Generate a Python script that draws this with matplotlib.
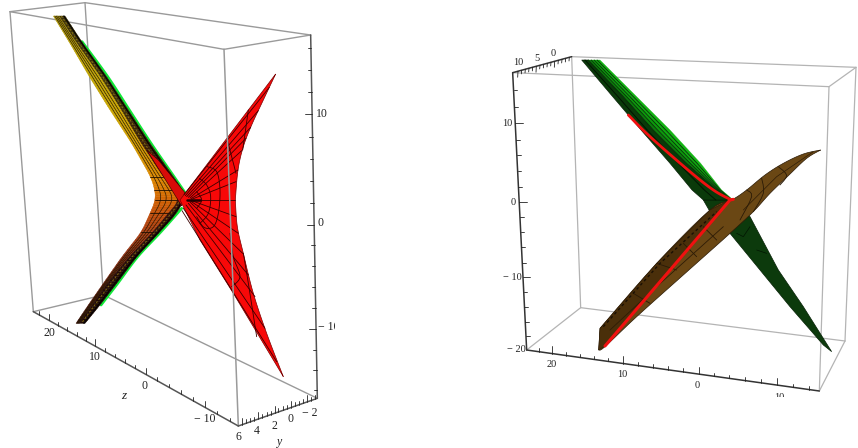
import matplotlib
matplotlib.use("Agg")
import matplotlib.pyplot as plt
import numpy as np
from matplotlib.patches import Polygon

plt.rcParams['font.family'] = ['Liberation Serif', 'DejaVu Serif']

W, H = 858, 448
GREY = '#9a9a9a'
INK = '#222222'

# ---------- left panel (values read in a 3x zoom of the picture) ----------
L_box_back = [[(255, 8), (932, 105)], [(30, 35), (255, 8)], [(255, 8), (310, 885)],
              [(100, 935), (310, 885)], [(310, 885), (952, 1195)],
              [(30, 35), (100, 935)], [(30, 35), (672, 148)], [(672, 148), (932, 105)]]
L_box_front = [[(672, 148), (715, 1278)]]
L_axes = [[(100, 935), (715, 1278)], [(715, 1278), (952, 1195)], [(932, 105), (952, 1195)]]

L_band_y = [48, 125, 230, 330, 430, 530, 570, 600, 640, 695, 770, 850, 915, 970]
L_band_left = [160, 207, 268, 330, 395, 452, 465, 467, 450, 425, 366, 310, 265, 228]
L_band_mid = [178, 228, 302, 365, 424, 490, 522, 540, 505, 460, 388, 322, 277, 238]
L_band_right = [195, 245, 320, 385, 450, 520, 548, 552, 530, 480, 410, 350, 300, 255]
L_band_col = ['#b09a10', '#b8a008', '#c0a404', '#c8a400', '#d09a00', '#dc8800', '#d87400',
              '#d06000', '#c04c08', '#a83c10', '#882c10', '#6e2412', '#561c10', '#401610']
L_band_dark = ['#3c3006', '#3a2e06', '#3a2e06', '#3a2a04', '#3a2004', '#3a1404', '#401004',
               '#3a1004', '#300c04', '#280c04', '#240a04', '#200a04', '#200a04', '#200a04']
L_band_cross = [530, 570, 600, 640, 695]
L_green_a = [(246, 125), (323, 230), (388, 330), (453, 430), (522, 530), (555, 578)]
L_green_b = [(545, 625), (483, 695), (413, 770), (353, 850), (303, 915)]

L_red_arc_up = [(827, 222), (790, 300), (755, 375), (730, 440), (714, 510), (706, 600)]
L_red_arc_low = [(706, 600), (712, 680), (730, 760), (760, 880), (800, 1000), (850, 1130)]
L_red_centre = [(700, 880), (600, 720), (540, 600)]
L_red_sliver = [(440, 450), (475, 480), (555, 578), (545, 618), (500, 545)]
L_red_spoke_start = [(575, 600), (575, 598), (573, 596), (570, 594), (565, 592), (560, 590),
                     (556, 587), (552, 584), (575, 602), (573, 604), (570, 606), (565, 610), (558, 615), (550, 625), (546, 632)]
L_red_spoke_end = [(706, 600), (708, 545), (714, 510), (725, 452), (738, 415), (752, 382), (775, 332), (808, 262),
                   (708, 650), (715, 700), (728, 760), (745, 825), (765, 890), (795, 985), (830, 1085)]
L_red_arcs = [
    [(590, 575), (605, 600), (590, 625)],
    [(598, 535), (620, 555), (632, 590), (625, 640), (600, 670)],
    [(622, 500), (650, 515), (660, 570), (655, 640), (640, 680), (612, 682), (590, 650)],
    [(682, 420), (695, 470), (708, 520)],
    [(745, 330), (738, 380), (728, 450)],
    [(690, 700), (700, 770), (720, 830), (695, 860)],
    [(730, 760), (745, 850), (770, 1010)],
]

L_bottom_ticks = [118, 147, 175, 202, 230, 257, 285, 315, 345, 375, 405, 437, 472, 507, 542, 578, 615, 652, 690]
L_bottom_major = [147, 285, 437, 615]
L_side_ticks = [143, 210, 277, 343, 410, 478, 543, 608, 675, 735, 798, 860, 925, 988, 1050, 1110, 1170]
L_side_major = [343, 675, 988]
L_depth_ticks = [725, 738, 750, 762, 775, 787, 800, 812, 825, 835, 848, 860, 872, 885, 897, 908, 920, 932, 945]
L_depth_major = [725, 775, 825, 872, 920]

L_labels = [('20', 148, 1000), ('10', 285, 1070), ('0', 435, 1158), ('\u2212 10', 615, 1258),
            ('10', 966, 342), ('0', 963, 668), ('\u2212 10', 985, 982),
            ('6', 716, 1312), ('4', 770, 1293), ('2', 822, 1277), ('0', 873, 1258), ('\u2212 2', 930, 1240)]

# ---------- right panel ----------
R_box_back = [[(245, 80), (1098, 112)], [(1098, 112), (1017, 170)], [(1017, 170), (68, 128)],
              [(245, 80), (272, 833)], [(272, 833), (1065, 933)], [(272, 833), (110, 960)],
              [(1098, 112), (1065, 933)], [(1065, 933), (988, 1083)], [(988, 1083), (1017, 170)]]
R_axes = [[(68, 128), (245, 80)], [(68, 128), (110, 960)], [(110, 960), (988, 1083)]]

R_green_y = [90, 200, 300, 400, 480, 510]
R_green_left = [275, 368, 453, 540, 606, 640]
R_green_light = [295, 400, 490, 590, 680, 715]
R_green_right = [330, 440, 540, 632, 695, 730]
R_green_shades = ['#0c7c0c', '#0c9a0c', '#10aa10', '#14b414']
R_green_low = [(640, 510), (730, 510), (780, 560), (865, 720), (940, 830), (1025, 965), (1000, 945),
               (900, 830), (810, 720), (720, 610), (660, 545)]

R_brown_up = [(330, 895), (500, 700), (660, 540), (725, 510), (770, 480), (825, 435), (880, 400), (940, 372), (992, 360)]
R_brown_low = [(326, 960), (345, 950), (440, 860), (600, 717), (720, 610), (790, 545), (840, 490), (895, 437), (950, 385), (992, 360)]
R_brown_dark = [(330, 895), (500, 700), (660, 540), (720, 510), (345, 948), (326, 960)]
R_brown_arcs = [[(770, 480), (785, 500), (750, 570)], [(815, 445), (820, 490), (790, 545)],
                [(865, 410), (890, 436), (870, 465)], [(500, 700), (560, 720)], [(430, 790), (480, 820)],
                [(640, 590), (680, 630)], [(580, 640), (620, 680)]]

R_red_a = [(345, 948), (720, 510), (730, 508)]
R_red_b = [(415, 255), (480, 320), (600, 425), (670, 480), (720, 508)]

R_bottom_ticks = [147, 187, 228, 270, 312, 355, 400, 445, 490, 535, 580, 627, 672, 718, 765, 812, 860, 910, 958]
R_bottom_major = [187, 400, 627, 860]
R_left_ticks = [180, 230, 280, 330, 376, 422, 470, 516, 560, 605, 650, 698, 742, 786, 830, 875, 918]
R_left_major = [280, 516, 742]
R_top_ticks = [84, 95, 106, 117, 128, 139, 150, 161, 172, 183, 194, 205, 216, 227, 238]
R_top_major = [84, 139, 194]

R_labels = [('10', 84, 98), ('5', 140, 85), ('0', 190, 70), ('10', 52, 280), ('0', 70, 516),
            ('\u2212 10', 68, 742), ('\u2212 20', 80, 958), ('20', 185, 1002), ('10', 398, 1033),
            ('0', 622, 1065), ('10', 868, 1102)]


def panel(x0, y0, w, h, scale=3):
    ax = fig.add_axes([x0 / W, 1 - (y0 + h) / H, w / W, h / H])
    ax.set_xlim(0, w * scale)
    ax.set_ylim(h * scale, 0)
    ax.axis('off')
    return ax


def smooth(pts, n=8):
    p = np.array(pts, float)
    q = np.vstack([p[0], p, p[-1]])
    out = []
    for i in range(1, len(q) - 2):
        for t in np.linspace(0, 1, n, endpoint=False):
            out.append(0.5 * ((2 * q[i]) + (q[i + 1] - q[i - 1]) * t
                              + (2 * q[i - 1] - 5 * q[i] + 4 * q[i + 1] - q[i + 2]) * t ** 2
                              + (3 * q[i] - q[i - 1] - 3 * q[i + 1] + q[i + 2]) * t ** 3))
    out.append(p[-1])
    return np.array(out)


def seg(ax, pts, c=GREY, lw=1.0, z=1, a=1.0, **kw):
    p = np.array(pts, float)
    ax.plot(p[:, 0], p[:, 1], color=c, lw=lw, zorder=z, alpha=a, solid_capstyle='round', **kw)


def on_line(a, b, x):
    t = (x - a[0]) / (b[0] - a[0])
    return a[1] + t * (b[1] - a[1])


def rgb(c):
    return np.array(matplotlib.colors.to_rgb(c))


fig = plt.figure(figsize=(W / 100, H / 100), dpi=100)

# ======== LEFT ========
a = panel(0, 0, 335, 448)
for s in L_box_back:
    seg(a, s, GREY, 1.0, 1)

# the band, refined along its length between the rows
y0 = np.array(L_band_y, float)
y = np.linspace(48, 970, 185)
le = np.interp(y, y0, L_band_left)
mi = np.interp(y, y0, L_band_mid)
ri = np.interp(y, y0, L_band_right)
kern = np.ones(9) / 9
def soft(v):
    return np.r_[v[:4], np.convolve(v, kern, 'valid'), v[-4:]]
le, mi, ri = soft(le), soft(mi), soft(ri)
col = np.array([rgb(c) for c in L_band_col])
dark = np.array([rgb(c) for c in L_band_dark])
cl = np.column_stack([np.interp(y, y0, col[:, k]) for k in range(3)])
cd = np.column_stack([np.interp(y, y0, dark[:, k]) for k in range(3)])

seg(a, smooth(L_green_a), '#10e838', 2.0, 2)
seg(a, smooth(L_green_b), '#10e838', 2.0, 2)
for i in range(len(y) - 1):
    a.add_patch(Polygon([(le[i], y[i]), (mi[i], y[i]), (mi[i + 1], y[i + 1]), (le[i + 1], y[i + 1])],
                        fc=cl[i], ec=cl[i], lw=0.3, zorder=3))
    a.add_patch(Polygon([(mi[i], y[i]), (ri[i], y[i]), (ri[i + 1], y[i + 1]), (mi[i + 1], y[i + 1])],
                        fc=cd[i], ec=cd[i], lw=0.3, zorder=3))
for f in (0.25, 0.5, 0.75):
    seg(a, np.column_stack([le + f * (mi - le), y]), '#201400', 0.55, 4, 0.85)
seg(a, np.column_stack([mi + 0.8 * (ri - mi), y]), '#000000', 0.9, 4, 0.9)
seg(a, np.column_stack([mi + 0.35 * (ri - mi), y]), '#9a8210', 0.7, 4, 0.8, dashes=(2, 2))
for yc in L_band_cross:
    i = int(np.argmin(abs(y - yc)))
    seg(a, [(le[i], yc), (mi[i], yc)], '#201000', 0.6, 4)

L_red = np.vstack([smooth(L_red_arc_up), smooth(L_red_arc_low)[1:], np.array(L_red_centre, float)])
a.add_patch(Polygon(L_red, fc='#f80808', ec='#7a0000', lw=0.5, zorder=5))
a.add_patch(Polygon(L_red_sliver, fc='#d80c08', ec='#300000', lw=0.4, zorder=4.5))
for st, en in zip(L_red_spoke_start, L_red_spoke_end):
    seg(a, [st, en], '#3a0000', 0.6, 6)
for arc in L_red_arcs:
    seg(a, smooth(arc), '#3a0000', 0.6, 6)
seg(a, [(560, 600), (600, 600)], '#200000', 1.8, 6)

for s in L_box_front:
    seg(a, s, GREY, 1.1, 7)
for s in L_axes:
    seg(a, s, '#555555', 1.1, 8)

A, B = L_axes[0]
for x in L_bottom_ticks:
    yy = on_line(A, B, x)
    d = 20 if x in L_bottom_major else 11
    seg(a, [(x, yy), (x, yy - d)], INK, 0.6, 8)
A, B = L_axes[2]
for v in L_side_ticks:
    x = A[0] + (v - A[1]) / (B[1] - A[1]) * (B[0] - A[0])
    d = 20 if v in L_side_major else 10
    seg(a, [(x, v), (x - d, v)], INK, 0.6, 8)
A, B = L_axes[1]
for x in L_depth_ticks:
    yy = on_line(A, B, x)
    d = 20 if x in L_depth_major else 12
    seg(a, [(x, yy), (x, yy - d)], INK, 0.6, 8)

for t, x, yy in L_labels:
    a.text(x, yy, t, fontsize=8.5, color='#222222', ha='center', va='center', clip_on=True, zorder=9)
a.text(371, 1187, 'z', fontsize=9.5, style='italic', color='#222222', ha='center', va='center', zorder=9)
a.text(838, 1326, 'y', fontsize=8.5, style='italic', color='#222222', ha='center', va='center', zorder=9)

# ======== RIGHT ========
r = panel(490, 30, 368, 367)
for s in R_box_back:
    seg(r, s, '#b4b4b4', 0.9, 1)

gy = np.array(R_green_y, float)
gl, gm, gr = map(lambda v: np.array(v, float), (R_green_left, R_green_light, R_green_right))
r.add_patch(Polygon(R_green_low, fc='#0c3a0c', ec='#062006', lw=0.5, zorder=2))
r.add_patch(Polygon(list(zip(gl, gy)) + list(zip(gm, gy))[::-1], fc='#0a3a0a', ec='#021402', lw=0.4, zorder=3))
seg(r, list(zip(gl + 0.5 * (gm - gl), gy)), '#021402', 0.7, 4)
n = len(R_green_shades)
for j, c in enumerate(R_green_shades):
    f0, f1 = j / n, (j + 1) / n
    p = list(zip(gm + f0 * (gr - gm), gy)) + list(zip(gm + f1 * (gr - gm), gy))[::-1]
    r.add_patch(Polygon(p, fc=c, ec=c, lw=0.2, zorder=3))
    seg(r, list(zip(gm + f0 * (gr - gm), gy)), '#042c04', 0.6, 4)
seg(r, [(780, 590), (760, 620), (740, 610)], '#021402', 0.5, 4)
seg(r, [(830, 670), (800, 660)], '#021402', 0.5, 4)

up = smooth(R_brown_up, 5)
low = smooth(R_brown_low, 5)
r.add_patch(Polygon(np.vstack([up, low[::-1]]), fc='#6a4714', ec='#2a1a06', lw=0.5, zorder=5))
r.add_patch(Polygon(R_brown_dark, fc='#4a2f0a', ec='#2a1a06', lw=0.4, zorder=5))
for arc in R_brown_arcs:
    seg(r, smooth(arc, 4), '#2a1a06', 0.6, 6)
seg(r, [(360, 900), (500, 770), (700, 590)], '#2e1c06', 0.6, 6)
seg(r, [(340, 890), (510, 700), (680, 545)], '#1a1004', 1.0, 6, dashes=(2, 2))
seg(r, [(760, 540), (860, 440), (970, 365)], '#2e1c06', 0.5, 6)

seg(r, smooth(R_red_b), '#f01010', 2.0, 4.5)
seg(r, R_red_a, '#f01010', 2.2, 7)

for s in R_axes:
    seg(r, s, '#333333', 1.1, 8)

A, B = R_axes[2]
for x in R_bottom_ticks:
    yy = on_line(A, B, x)
    d = 22 if x in R_bottom_major else 11
    seg(r, [(x, yy), (x, yy - d)], INK, 0.6, 8)
A, B = R_axes[1]
for v in R_left_ticks:
    x = A[0] + (v - A[1]) / (B[1] - A[1]) * (B[0] - A[0])
    d = 22 if v in R_left_major else 11
    seg(r, [(x, v), (x + d, v)], INK, 0.6, 8)
A, B = R_axes[0]
for x in R_top_ticks:
    yy = on_line(A, B, x)
    d = 18 if x in R_top_major else 11
    seg(r, [(x, yy), (x - 1, yy + d)], INK, 0.6, 8)

for t, x, yy in R_labels:
    r.text(x, yy, t, fontsize=7.5, color='#222222', ha='center', va='center', clip_on=True, zorder=9)

fig.savefig('out.png', dpi=100, facecolor='white')
